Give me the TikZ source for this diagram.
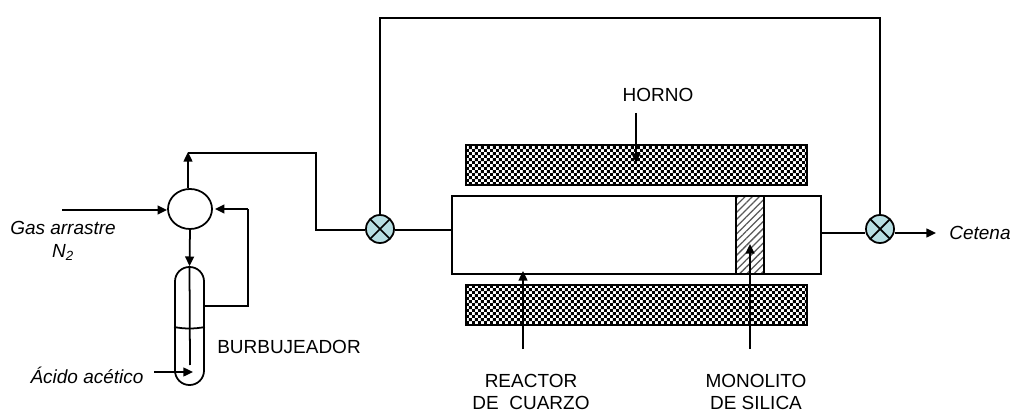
\documentclass[tikz,border=0pt]{standalone}
\usepackage{fontspec}
\setmainfont{Liberation Sans}
\usetikzlibrary{arrows.meta,calc,shapes.geometric,patterns,patterns.meta,positioning}
\definecolor{aguamarina}{RGB}{183,222,226}
\pgfdeclarepatternformonly{damero}{\pgfpointorigin}{\pgfqpoint{4.2pt}{4.2pt}}{\pgfqpoint{4.2pt}{4.2pt}}{
  \pgfpathrectangle{\pgfpointorigin}{\pgfqpoint{2.1pt}{2.1pt}}
  \pgfpathrectangle{\pgfqpoint{2.1pt}{2.1pt}}{\pgfqpoint{2.1pt}{2.1pt}}
  \pgfusepath{fill}
}
\tikzset{
  linea/.style={line width=1.25pt},
  flecha/.style={linea,-{Triangle[length=2.4mm,width=2.2mm]}},
  valvula/.style={draw,linea,circle,fill=aguamarina,minimum size=0.7cm,inner sep=0pt,
    path picture={\draw[linea] (path picture bounding box.north west) -- (path picture bounding box.south east)
      (path picture bounding box.north east) -- (path picture bounding box.south west);}},
  horno/.style={draw,linea,pattern=damero,minimum width=8.525cm,minimum height=1cm,inner sep=0pt},
  etiqueta/.style={font=\fontsize{13.5}{16}\selectfont,align=center,inner sep=2pt},
  corriente/.style={etiqueta,font=\fontsize{13.5}{16}\selectfont\itshape}
}
\begin{document}
\begin{tikzpicture}[x=0.025cm,y=-0.025cm]
  \useasboundingbox (0,0) rectangle (1012,412);
  \node (hornoa) at (636.5,165) [horno] {};
  \node (hornob) at (636.5,305) [horno] {};
  \node (reactor) at (636.5,235) [draw,linea,minimum width=9.225cm,minimum height=1.95cm,inner sep=0pt] {};
  \node (monolito) at (750,235) [draw,linea,pattern={Lines[angle=45,distance=3.6pt,line width=0.9pt]},pattern color=black!65,minimum width=0.7cm,minimum height=1.95cm,inner sep=0pt] {};
  \node (mezcla) at (190,209) [draw,linea,ellipse,minimum width=1.1cm,minimum height=1cm,inner sep=0pt] {};
  \node (valv1) at (380,229) [valvula] {};
  \node (valv2) at (880,229) [valvula] {};
  \node (burb) at (189.5,326) [draw,linea,rectangle,rounded corners=0.36cm,minimum width=0.725cm,minimum height=2.95cm,inner sep=0pt] {};

  \node (thorno) at (658,95) [etiqueta] {HORNO};
  \node (treactor) at (531,392) [etiqueta] {REACTOR\\DE\ \ CUARZO};
  \node (tmonolito) at (756,392) [etiqueta] {MONOLITO\\DE SILICA};
  \node (tburb) at (289,347) [etiqueta] {BURBUJEADOR};
  \node (tgas) at (63,241) [corriente] {Gas arrastre\\N\textsubscript{2}};
  \node (tacido) at (87,375) [corriente] {Ácido acético};
  \node (tcetena) at (980,233) [corriente] {Cetena};

  \coordinate (sube) at (188,152);
  \coordinate (codo1) at (316,153);
  \coordinate (codo2) at (316,230);
  \coordinate (techo1) at (380,18);
  \coordinate (techo2) at (880,18);
  \coordinate (gas) at (62,210);
  \coordinate (tubo) at (190,365);
  \coordinate (retorno1) at (248,306);
  \coordinate (retorno2) at (248,209);
  \coordinate (acido0) at (154,372);
  \coordinate (acido1) at (193,372);
  \coordinate (salida) at (936,233);
  \coordinate (ah0) at (636,113);
  \coordinate (ah1) at (636,163);
  \coordinate (ar0) at (523,349);
  \coordinate (ar1) at (523,271);
  \coordinate (am0) at (750,349);
  \coordinate (am1) at (750,244);

  \draw[flecha] (mezcla.north -| sube) -- (sube);
  \draw[linea] (sube |- codo1) -- (codo1) -- (codo2) -- (codo2 -| valv1.west);
  \draw[linea] (codo2 -| valv1.east) -- (codo2 -| reactor.west);
  \draw[linea] (valv1.north) -- (techo1) -- (techo2) -- (valv2.north);
  \draw[linea] (reactor.east |- salida) -- (valv2.west |- salida);
  \draw[flecha] (valv2.east |- salida) -- (salida);
  \draw[flecha] (gas) -- (gas -| mezcla.west);
  \draw[flecha] (mezcla.south) -- (burb.north);
  \draw[linea] (burb.north) -- (tubo);
  \draw[linea] (burb.east |- retorno1) -- (retorno1) -- (retorno2);
  \draw[flecha] (retorno2) -- ($(mezcla.east)+(2,0)$);
  \draw[flecha] (acido0) -- (acido1);
  \draw[linea] (burb.west |- 0,327) .. controls +(10,2) and +(-10,2) .. (burb.east |- 0,327);
  \draw[flecha] (ah0) -- (ah1);
  \draw[flecha] (ar0) -- (ar1);
  \draw[flecha] (am0) -- (am1);
\end{tikzpicture}
\end{document}
